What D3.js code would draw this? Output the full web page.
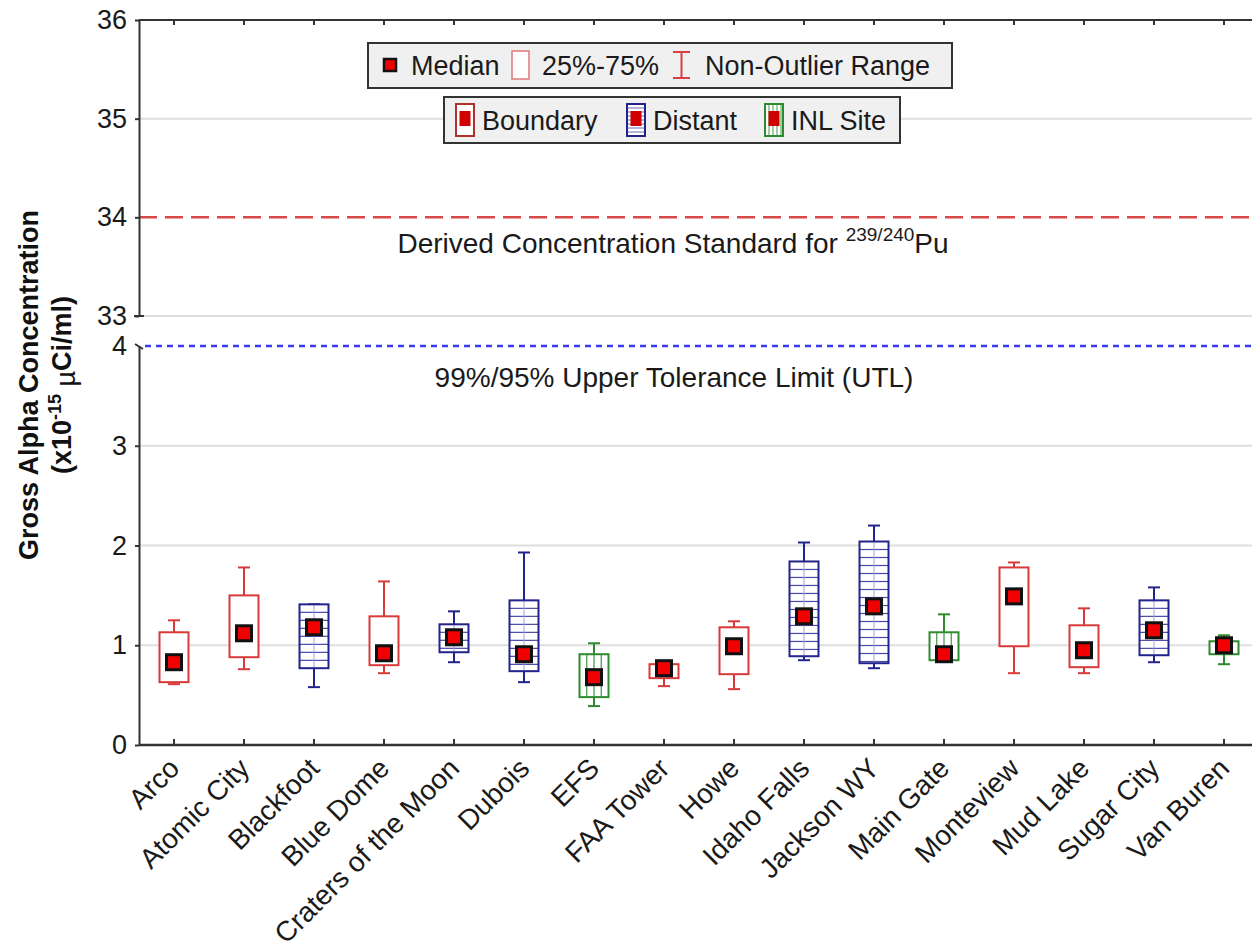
<!DOCTYPE html>
<html>
<head>
<meta charset="utf-8">
<script src="https://cdn.jsdelivr.net/npm/d3@7"></script>
<style>
  body { margin: 0; background: #fff; }
  svg { display: block; font-family: "Liberation Sans", Arial, sans-serif; }
</style>
</head>
<body>
<svg id="chart" width="1252" height="952"></svg>
<script>
// Gross alpha concentrations by sampling location (x10^-15 µCi/ml)
const categories = ["Arco", "Atomic City", "Blackfoot", "Blue Dome", "Craters of the Moon", "Dubois",
  "EFS", "FAA Tower", "Howe", "Idaho Falls", "Jackson WY", "Main Gate", "Monteview", "Mud Lake",
  "Sugar City", "Van Buren"];
const groups = ["Boundary", "Boundary", "Distant", "Boundary", "Distant", "Distant",
  "INL Site", "Boundary", "Boundary", "Distant", "Distant", "INL Site", "Boundary", "Boundary",
  "Distant", "INL Site"];
const whiskerLow  = [0.61, 0.76, 0.58, 0.72, 0.83, 0.63, 0.39, 0.59, 0.56, 0.85, 0.77, 0.85, 0.72, 0.72, 0.83, 0.81];
const q1          = [0.63, 0.88, 0.77, 0.80, 0.93, 0.74, 0.48, 0.67, 0.71, 0.89, 0.82, 0.85, 0.99, 0.78, 0.90, 0.91];
const medians     = [0.83, 1.12, 1.18, 0.92, 1.08, 0.91, 0.68, 0.77, 0.99, 1.29, 1.39, 0.91, 1.49, 0.95, 1.15, 1.00];
const q3          = [1.13, 1.50, 1.41, 1.29, 1.21, 1.45, 0.91, 0.81, 1.18, 1.84, 2.04, 1.13, 1.78, 1.20, 1.45, 1.04];
const whiskerHigh = [1.25, 1.78, 1.41, 1.64, 1.34, 1.93, 1.02, 0.81, 1.24, 2.03, 2.20, 1.31, 1.83, 1.37, 1.58, 1.10];

const lowerTicks = [0, 1, 2, 3, 4];
const upperTicks = [33, 34, 35, 36];
const dcsValue = 34;   // Derived Concentration Standard for 239/240Pu
const utlValue = 4;    // 99%/95% upper tolerance limit

const groupNames = ["Boundary", "Distant", "INL Site"];
const groupColors = ["#d83a3a", "#23238c", "#2e8a2e"];

const svg = d3.select("#chart");
const color = d3.scaleOrdinal(groupNames, groupColors);

const plotLeft = 139, plotRight = 1259, edge = 1252;
const x = d3.scaleBand(categories, [plotLeft, plotRight]).padding(0);
const yLow = d3.scaleLinear([0, 4], [745, 346]);
const yHigh = d3.scaleLinear([33, 36], [316, 20]);
const cx = c => x(c) + x.bandwidth() / 2;

const fs = 27;
const axisColor = "#333";

// gridlines
const grid = svg.append("g").attr("stroke", "#dedede").attr("stroke-width", 2);
grid.selectAll("line.lo").data(lowerTicks.filter(t => t > 0 && t < 4)).join("line")
  .attr("x1", plotLeft).attr("x2", edge).attr("y1", d => yLow(d)).attr("y2", d => yLow(d));
grid.selectAll("line.hi").data(upperTicks.filter(t => t !== dcsValue && t < 36)).join("line")
  .attr("x1", plotLeft).attr("x2", edge).attr("y1", d => yHigh(d)).attr("y2", d => yHigh(d));

// reference lines
svg.append("line").attr("x1", plotLeft).attr("x2", edge)
  .attr("y1", yHigh(dcsValue)).attr("y2", yHigh(dcsValue))
  .attr("stroke", "#d94848").attr("stroke-width", 2.5).attr("stroke-dasharray", "18,8");
svg.append("line").attr("x1", plotLeft + 6).attr("x2", edge)
  .attr("y1", yLow(utlValue)).attr("y2", yLow(utlValue))
  .attr("stroke", "#3a3af2").attr("stroke-width", 2.5).attr("stroke-dasharray", "6,5");

const dcsText = svg.append("text").attr("x", 673).attr("y", yHigh(dcsValue) + 36)
  .attr("text-anchor", "middle").attr("font-size", 28).attr("fill", "#1a1a1a");
dcsText.append("tspan").text("Derived Concentration Standard for ");
dcsText.append("tspan").attr("font-size", 19).attr("dy", -12).text("239/240");
dcsText.append("tspan").attr("dy", 12).text("Pu");

svg.append("text").attr("x", 674).attr("y", yLow(utlValue) + 41)
  .attr("text-anchor", "middle").attr("font-size", 28).attr("fill", "#1a1a1a")
  .text("99%/95% Upper Tolerance Limit (UTL)");

// boxes
const boxW = 29, capW = 12;
const boxes = svg.append("g").selectAll("g").data(categories).join("g");

boxes.each(function (c, i) {
  const g = d3.select(this);
  const col = color(groups[i]);
  const xc = cx(c);
  const yTop = yLow(q3[i]), yBot = yLow(q1[i]);
  // whiskers
  g.append("line").attr("x1", xc).attr("x2", xc).attr("y1", yLow(whiskerHigh[i])).attr("y2", yTop)
    .attr("stroke", col).attr("stroke-width", 2);
  g.append("line").attr("x1", xc).attr("x2", xc).attr("y1", yBot).attr("y2", yLow(whiskerLow[i]))
    .attr("stroke", col).attr("stroke-width", 2);
  [whiskerHigh[i], whiskerLow[i]].forEach(v => {
    g.append("line").attr("x1", xc - capW / 2).attr("x2", xc + capW / 2)
      .attr("y1", yLow(v)).attr("y2", yLow(v)).attr("stroke", col).attr("stroke-width", 2);
  });
  // box
  g.append("rect").attr("x", xc - boxW / 2).attr("y", yTop).attr("width", boxW).attr("height", yBot - yTop)
    .attr("fill", "#fff");
  if (groups[i] === "Distant") {
    const hy = d3.range(yTop + 8, yBot - 1, 8);
    g.selectAll("line.h").data(hy).join("line").attr("class", "h")
      .attr("x1", xc - boxW / 2).attr("x2", xc + boxW / 2).attr("y1", d => d).attr("y2", d => d)
      .attr("stroke", "#4a4aa8").attr("stroke-width", 1.2);
    g.append("line").attr("x1", xc).attr("x2", xc).attr("y1", yTop).attr("y2", yBot)
      .attr("stroke", "#a0a0d4").attr("stroke-width", 1);
  } else if (groups[i] === "INL Site") {
    const vx = [-0.25, 0, 0.25].map(f => xc + f * boxW);
    g.selectAll("line.v").data(vx).join("line").attr("class", "v")
      .attr("x1", d => d).attr("x2", d => d).attr("y1", yTop).attr("y2", yBot)
      .attr("stroke", "#3f963f").attr("stroke-width", 1.2);
  }
  g.append("rect").attr("x", xc - boxW / 2).attr("y", yTop).attr("width", boxW).attr("height", yBot - yTop)
    .attr("fill", "none").attr("stroke", col).attr("stroke-width", 2);
  // median marker
  g.append("rect").attr("x", xc - 7.5).attr("y", yLow(medians[i]) - 7.5).attr("width", 15).attr("height", 15)
    .attr("fill", "#f00000").attr("stroke", "#111").attr("stroke-width", 3);
});

// axes
const axisG = svg.append("g").attr("font-size", fs);
const fmt = d3.format("d");

// left axis, lower panel
const leftLow = axisG.append("g").attr("transform", `translate(${plotLeft},0)`)
  .call(d3.axisLeft(yLow).tickValues(lowerTicks).tickFormat(fmt).tickSize(4).tickSizeOuter(0).tickPadding(8));
// left axis, upper panel
const leftHigh = axisG.append("g").attr("transform", `translate(${plotLeft},0)`)
  .call(d3.axisLeft(yHigh).tickValues(upperTicks).tickFormat(fmt).tickSize(4).tickSizeOuter(0).tickPadding(8));
[leftLow, leftHigh].forEach(a => {
  a.select(".domain").attr("stroke", axisColor).attr("stroke-width", 2);
  a.selectAll(".tick line").attr("stroke", axisColor).attr("stroke-width", 2);
  a.selectAll(".tick text").attr("fill", "#1a1a1a").attr("font-family", "Liberation Sans, Arial, sans-serif")
    .attr("font-size", fs);
});
leftLow.select(".tick:last-of-type line").remove();
// axis break marks
axisG.append("line").attr("x1", plotLeft - 5).attr("x2", plotLeft + 5).attr("y1", yHigh(33)).attr("y2", yHigh(33))
  .attr("stroke", axisColor).attr("stroke-width", 2);
axisG.append("path").attr("d", `M${plotLeft - 4},${yLow(4) - 2} L${plotLeft + 4},${yLow(4) + 3}`)
  .attr("stroke", axisColor).attr("stroke-width", 2).attr("fill", "none");

// bottom axis with inward ticks
const bottomAxis = axisG.append("g").attr("transform", `translate(0,${yLow(0)})`)
  .call(d3.axisBottom(x).tickSize(-6).tickSizeOuter(0).tickFormat(""));
bottomAxis.select(".domain").attr("d", `M${plotLeft},0H${edge}`).attr("stroke", axisColor).attr("stroke-width", 2.5);
bottomAxis.selectAll(".tick line").attr("stroke", axisColor).attr("stroke-width", 2);

// top frame with inward ticks
const topAxis = axisG.append("g").attr("transform", `translate(0,${yHigh(36)})`)
  .call(d3.axisTop(x).tickSize(-5).tickSizeOuter(0).tickFormat(""));
topAxis.select(".domain").attr("d", `M${plotLeft},0H${edge}`).attr("stroke", axisColor).attr("stroke-width", 2);
topAxis.selectAll(".tick line").attr("stroke", axisColor).attr("stroke-width", 2);

// category labels
svg.append("g").selectAll("text").data(categories).join("text")
  .attr("transform", d => `translate(${cx(d) - 7},${yLow(0) + 11}) rotate(-45)`)
  .attr("text-anchor", "end").attr("dy", "0.71em")
  .attr("font-size", 28).attr("fill", "#1a1a1a").text(d => d);

// y-axis title
svg.append("text").attr("transform", `translate(38,385) rotate(-90)`)
  .attr("text-anchor", "middle").attr("font-size", 27).attr("font-weight", "bold").attr("fill", "#111")
  .text("Gross Alpha Concentration");
const t2 = svg.append("text").attr("transform", `translate(71,385) rotate(-90)`)
  .attr("text-anchor", "middle").attr("font-size", 27).attr("font-weight", "bold").attr("fill", "#111");
t2.append("tspan").text("(x10");
t2.append("tspan").attr("font-size", 18).attr("dy", -10).text("-15");
t2.append("tspan").attr("dy", 10).text(" ");
t2.append("tspan").attr("font-weight", "normal").attr("dy", 4).text("µ");
t2.append("tspan").attr("dy", -4).text("Ci/ml)");

// legend: statistics
const lg1 = svg.append("g");
lg1.append("rect").attr("x", 368).attr("y", 43).attr("width", 584).attr("height", 45)
  .attr("fill", "#f0f0f0").attr("stroke", "#333").attr("stroke-width", 2);
lg1.append("rect").attr("x", 384).attr("y", 59).attr("width", 12).attr("height", 12)
  .attr("fill", "#f00000").attr("stroke", "#111").attr("stroke-width", 2.5);
lg1.append("rect").attr("x", 512).attr("y", 51).attr("width", 17).attr("height", 28)
  .attr("fill", "#fff").attr("stroke", "#e07878").attr("stroke-width", 1.5);
lg1.append("path").attr("d", "M673,52H690M681.5,52V78M673,78H690")
  .attr("stroke", "#d84040").attr("stroke-width", 2).attr("fill", "none");
lg1.selectAll("text").data([["Median", 411], ["25%-75%", 542], ["Non-Outlier Range", 705]]).join("text")
  .attr("x", d => d[1]).attr("y", 75).attr("font-size", fs).attr("fill", "#1a1a1a").text(d => d[0]);

// legend: location groups
const lg2 = svg.append("g");
lg2.append("rect").attr("x", 444).attr("y", 97).attr("width", 456).attr("height", 46)
  .attr("fill", "#f0f0f0").attr("stroke", "#333").attr("stroke-width", 2);
const iconX = [456, 627, 765], textX = [482, 653, 791];
groupNames.forEach((name, k) => {
  const gx = iconX[k], gy = 104, w = 18, h = 32;
  const col = color(name);
  lg2.append("rect").attr("x", gx).attr("y", gy).attr("width", w).attr("height", h).attr("fill", "#fff");
  if (name === "Distant") {
    lg2.selectAll(null).data(d3.range(gy + 4, gy + h, 4)).join("line")
      .attr("x1", gx).attr("x2", gx + w).attr("y1", d => d).attr("y2", d => d)
      .attr("stroke", "#6a6ab8").attr("stroke-width", 1);
  } else if (name === "INL Site") {
    lg2.selectAll(null).data(d3.range(gx + 4, gx + w, 4)).join("line")
      .attr("x1", d => d).attr("x2", d => d).attr("y1", gy).attr("y2", gy + h)
      .attr("stroke", "#4a9a4a").attr("stroke-width", 1);
  }
  lg2.append("rect").attr("x", gx).attr("y", gy).attr("width", w).attr("height", h)
    .attr("fill", "none").attr("stroke", name === "Boundary" ? "#b03030" : col).attr("stroke-width", 2);
  lg2.append("rect").attr("x", gx + 3.5).attr("y", gy + 7).attr("width", w - 7).attr("height", 15)
    .attr("fill", "#d00000");
  lg2.append("text").attr("x", textX[k]).attr("y", 130).attr("font-size", fs).attr("fill", "#1a1a1a").text(name);
});
</script>
</body>
</html>
